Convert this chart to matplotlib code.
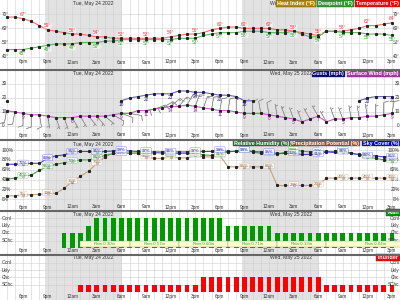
import numpy as np
import matplotlib
matplotlib.use('Agg')
import matplotlib.pyplot as plt
from matplotlib.transforms import blended_transform_factory, IdentityTransform
from matplotlib.patches import Rectangle
from matplotlib.lines import Line2D

plt.rcParams['font.family'] = ['Liberation Sans', 'DejaVu Sans']

# ---------------- data (hours counted from Mon May 23 00:00) ----------------
hours = list(range(16, 64))
tick_hours = [18, 21, 24, 27, 30, 33, 36, 39, 42, 45, 48, 51, 54, 57, 60, 63]
tick_labels = ['6pm', '9pm', '12am', '3am', '6am', '9am', '12pm', '3pm',
               '6pm', '9pm', '12am', '3am', '6am', '9am', '12pm', '3pm']
night = [(20.7, 30.1), (44.7, 54.1)]
date_hours = [24, 48]
date_labels = ['Tue, May 24 2022', 'Wed, May 25 2022']

temperature = [68, 68, 67, 65, 62, 59, 58, 57, 56, 56,
               55, 54, 54, 53, 53, 53, 53, 53, 53, 53,
               54, 55, 56, 56, 57, 59, 60, 61, 61, 60,
               60, 60, 60, 59, 59, 58, 57, 56, 55, 58,
               58, 58, 59, 60, 62, 62, 63, 64]
dewpoint = [45, 45, 45, 46, 47, 48, 49, 49, 49, 50,
            50, 50, 51, 51, 52, 52, 52, 52, 52, 52,
            52, 53, 53, 53, 55, 56, 57, 57, 57, 58,
            58, 58, 57, 57, 57, 58, 56, 54, 54, 58,
            58, 57, 57, 57, 56, 56, 56, 55]

wind = [11, 10, 9, 8, 8, 7, 6, 6, 6, 7,
        7, 7, 7, 8, 9, 9, 11, 11, 12, 13,
        14, 14, 15, 14, 13, 12, 11, 11, 10, 9,
        9, 9, 8, 7, 6, 5, 3, 5, 7, 3,
        5, 5, 6, 6, 7, 7, 8, 9]
gusts = [18, None, None, None, None, None, None, None, None, None,
         None, None, None, None, 18, 20, 21, 22, 23, 23,
         23, 25, 25, 24, 24, 23, 22, 22, 21, 18,
         18, None, None, None, None, None, None, None, None, None,
         None, None, None, 18, 20, 21, 21, 21]
wind_dir = [190, 190, 180, 180, 170, 170, 160, 160, 150, 150,
            140, 140, 130, 120, 110, 100, 90, 80, 70, 60,
            50, 40, 30, 20, 20, 10, 10, 10, 0, 0,
            0, 350, 350, 350, 340, 340, 340, 330, 330, 330,
            340, 340, 350, 350, 350, 0, 0, 10]

rel_humidity = [41, 43, 47, 49, 59, 66, 71, 74, 77, 80,
                80, 84, 89, 93, 93, 94, 94, 93, 94, 94,
                92, 93, 93, 92, 90, 89, 91, 96, 98, 99,
                96, 93, 93, 91, 96, 99, 98, 96, 97, 97,
                97, 99, 94, 90, 86, 83, 80, 78]
precip_potential = [7, 7, 9, 9, 10, 12, 12, 22, 36, 47,
                    57, 73, 86, 93, 93, 93, 93, 86, 83, 83,
                    86, 84, 84, 89, 86, 86, 89, 66, 66, 66,
                    66, 66, 66, 28, 28, 28, 28, 28, 29, 43,
                    43, 43, 43, 43, 43, 43, 43, 43]
sky_cover = [71, 71, 72, 73, 73, 83, 88, 90, 96, 97,
             97, 96, 97, 98, 99, 98, 97, 97, 96, 96,
             96, 96, 96, 97, 97, 97, 99, 97, 97, 99,
             97, 96, 95, 93, 93, 93, 91, 91, 91, 96,
             95, 96, 93, 91, 88, 88, 86, 86]

# 0 none, 1 SChc, 2 Chc, 3 Lkly, 4 Ocnl
rain_level = [0, 0, 0, 0, 0, 0, 0, 2, 2, 2,
              3, 4, 4, 4, 4, 4, 4, 4, 4, 4,
              4, 4, 4, 4, 4, 4, 4, 3, 3, 3,
              3, 3, 3, 2, 2, 2, 2, 2, 2, 2,
              2, 2, 2, 2, 2, 2, 2, 2]
thunder_level = [0, 0, 0, 0, 0, 0, 0, 0, 0, 1,
                 1, 1, 1, 1, 1, 1, 1, 1, 1, 1,
                 1, 1, 1, 1, 2, 2, 2, 2, 2, 2,
                 2, 2, 2, 2, 2, 2, 2, 2, 2, 1,
                 1, 1, 1, 1, 1, 1, 1, 1]
level_names = ['SChc', 'Chc', 'Lkly', 'Ocnl']
rain_period_edges = [25, 31, 37, 43, 49, 55, 67]
rain_amounts = ['0.30', '0.57', '0.60', '0.71', '0.13', '0.04']

# ---------------- figure ----------------
W, H = 400, 300
fig = plt.figure(figsize=(4, 3), dpi=100)
XL = (15.195, 63.976)
TXT = '#333333'
FS = 3.4
LFS = 3.85

bounds = [0, 69.7, 140.5, 211.3, 254.8, 300]
# value v sits at pixel row a + b*v
maps = [(113.0, -1.41), (126.0, -1.4), (199.3, -0.493), (248.0, -7.5), (292.0, -7.33)]
axes = []
for i in range(5):
    top, bot = bounds[i], bounds[i + 1]
    a, b = maps[i]
    ax = fig.add_axes([0, 1 - bot / H, 1, (bot - top) / H])
    ax.set_xlim(*XL)
    ax.set_ylim((bot - a) / b, (top - a) / b)
    ax.axis('off')
    for s, e in night:
        ax.axvspan(s, e, color='#e2e2e2', zorder=0, lw=0)
    for hh in range(15, 65):
        ax.axvline(hh, color='#cfcfcf', lw=0.4, zorder=0.5)
    axes.append(ax)

ax1, ax2, ax3, ax4, ax5 = axes


def px_y(py):
    return 1 - py / H


def ticks_and_header(ax, tick_py, head_py):
    tr = blended_transform_factory(ax.transData, fig.transFigure)
    for hh, lab in zip(tick_hours, tick_labels):
        ax.text(hh, px_y(tick_py), lab, transform=tr, ha='center', va='center',
                fontsize=FS, color=TXT, zorder=3)
    for hh, lab in zip(date_hours, date_labels):
        ax.text(hh + 0.1, px_y(head_py), lab, transform=tr, ha='left', va='center',
                fontsize=3.6, color=TXT, zorder=3)


def ylabels(ax, vals, labs):
    tr = blended_transform_factory(fig.transFigure, ax.transData)
    for v, lab in zip(vals, labs):
        ax.axhline(v, color='#cfcfcf', lw=0.4, zorder=0.5)
        ax.text(1.5 / W, v, lab, transform=tr, ha='left', va='center', fontsize=FS, color=TXT, zorder=3)
        ax.text(399.5 / W, v, lab, transform=tr, ha='right', va='center', fontsize=FS, color=TXT, zorder=3)


renderer = fig.canvas.get_renderer()


def legend_chain(items, py):
    right = 399.8
    pad = 0.16
    pad_px = pad * LFS * 100 / 72
    for label, color in reversed(items):
        t = fig.text(0, 0, label, transform=IdentityTransform(), ha='right', va='center',
                     fontsize=LFS, color='white', fontweight='bold', zorder=10,
                     bbox=dict(boxstyle='square,pad=%g' % pad, fc=color, ec='#444444', lw=0.3))
        x = right - pad_px
        t.set_position((x, H - py))
        w = t.get_window_extent(renderer).width
        right = x - w - pad_px - 1.5


sep_py = bounds[1:5]
for py in sep_py:
    fig.add_artist(Line2D([0, 1], [px_y(py)] * 2, color='#666666', lw=1.5, zorder=20))

# ---------------- panel 1: temperature / dewpoint ----------------
ticks_and_header(ax1, 62, 3.2)
ylabels(ax1, [70, 60, 50, 40], ['70°', '60°', '50°', '40°'])
ax1.plot(hours, temperature, color='#ff6666', lw=0.8, marker='s', ms=1.2,
         mfc='#222222', mec='#222222', zorder=2)
ax1.plot(hours, dewpoint, color='#55bb55', lw=0.8, marker='s', ms=1.2,
         mfc='#222222', mec='#222222', zorder=2)
for hh, t, d in zip(hours, temperature, dewpoint):
    if hh in tick_hours:
        ax1.annotate('%d°' % t, (hh, t), xytext=(0, 2.8), textcoords='offset points',
                     ha='center', va='center', fontsize=FS, color='#ff3333', zorder=4,
                     bbox=dict(boxstyle='round,pad=0.05', fc='white', ec='none', alpha=0.5))
        ax1.annotate('%d°' % d, (hh, d), xytext=(0, -2.8), textcoords='offset points',
                     ha='center', va='center', fontsize=FS, color='#33aa33', zorder=4,
                     bbox=dict(boxstyle='round,pad=0.05', fc='white', ec='none', alpha=0.5))
legend_chain([('Heat Index (°F)', '#b8860b'), ('Dewpoint (°F)', '#2e9e2e'),
              ('Temperature (°F)', '#ff0000')], 3.4)

# ---------------- panel 2: wind ----------------
ticks_and_header(ax2, 135, 73.6)
ylabels(ax2, [30, 20, 10, 0], ['30', '20', '10', '0'])
g = np.array([np.nan if v is None else v for v in gusts], dtype=float)
ax2.plot(hours, g, color='#6666bb', lw=0.8, marker='s', ms=1.2,
         mfc='#222222', mec='#222222', zorder=2)
ax2.plot(hours, wind, color='#cc55cc', lw=0.8, marker='s', ms=1.2,
         mfc='#222222', mec='#222222', zorder=2)
wd = np.radians(np.array(wind_dir, dtype=float))
ws = np.array(wind, dtype=float)
ax2.barbs(hours, wind, -ws * np.sin(wd), -ws * np.cos(wd), length=4.2, lw=0.4,
          color='#999999', zorder=1.8, pivot='tip')
for hh, w, gg in zip(hours, wind, g):
    if hh in tick_hours:
        ax2.annotate('%d' % w, (hh, w), xytext=(0, -2.6), textcoords='offset points',
                     ha='center', va='center', fontsize=FS, color='#aa22aa', zorder=4)
        if not np.isnan(gg):
            ax2.annotate('%d' % gg, (hh, gg), xytext=(0, -2.8), textcoords='offset points',
                         ha='center', va='center', fontsize=FS, color='#222288', zorder=4)
legend_chain([('Gusts (mph)', '#000080'), ('Surface Wind (mph)', '#b030b0')], 74.0)

# ---------------- panel 3: humidity / precip / sky ----------------
ticks_and_header(ax3, 207, 144.3)
ylabels(ax3, [100, 80, 60, 40, 20, 0], ['100%', '80%', '60%', '40%', '20%', '0%'])
series3 = [(precip_potential, '#c8a078', '#9a6a3a'),
           (rel_humidity, '#44aa44', '#227722'),
           (sky_cover, '#4444ee', '#2222bb')]
for vals, lc, tc in series3:
    ax3.plot(hours, vals, color=lc, lw=0.8, marker='s', ms=1.2,
             mfc='#222222', mec='#222222', zorder=2)
for vals, lc, tc in series3:
    for hh, v in zip(hours, vals):
        if hh in tick_hours:
            ax3.annotate('%d%%' % v, (hh, v), xytext=(0, 0.6), textcoords='offset points',
                         ha='center', va='center', fontsize=3.2, color=tc, zorder=4,
                         bbox=dict(boxstyle='round,pad=0.2', fc='white', ec=lc, lw=0.3, alpha=0.7))
legend_chain([('Relative Humidity (%)', '#1e7b1e'), ('Precipitation Potential (%)', '#a0522d'),
              ('Sky Cover (%)', '#0000cc')], 143.0)

# ---------------- panel 4: rain ----------------
ticks_and_header(ax4, 250.2, 214.2)
ylabels(ax4, [4, 3, 2, 1], level_names[::-1])
ax4.bar(hours, rain_level, width=0.58, color='#009900', zorder=2)
for i, amt in enumerate(rain_amounts):
    s, e = rain_period_edges[i], rain_period_edges[i + 1]
    ax4.add_patch(Rectangle((s, 0.2), e - s, 0.75, fc='#ffffcc', ec='#888888', lw=0.3, zorder=3))
    ax4.text((s + e) / 2, 0.58, 'Rain:%sin' % amt, ha='center', va='center',
             fontsize=3.2, color='#33aa33', zorder=4, clip_on=True)
legend_chain([('Rain', '#009900')], 212.5)

# ---------------- panel 5: thunder ----------------
ticks_and_header(ax5, 296.2, 257.6)
ylabels(ax5, [4, 3, 2, 1], level_names[::-1])
ax5.bar(hours, thunder_level, width=0.58, color='#ff0000', zorder=2)
legend_chain([('Thunder', '#ff0000')], 257.6)

fig.savefig('out.png', dpi=100)
